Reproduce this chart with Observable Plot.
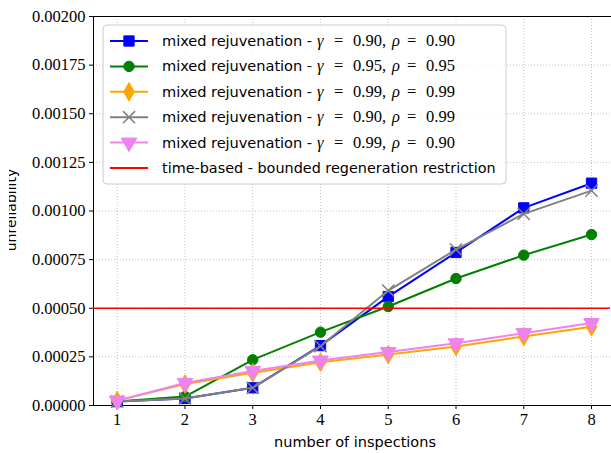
<!DOCTYPE html>
<html><head><meta charset="utf-8">
<script src="https://cdn.jsdelivr.net/npm/d3@7"></script>
<script src="https://cdn.jsdelivr.net/npm/@observablehq/plot@0.6"></script>
<style>
html,body{margin:0;padding:0;background:#fff;overflow:hidden}
#chart{position:relative;width:611px;height:453px}
</style></head>
<body><div id="chart"></div>
<script>
const inspections = [1,2,3,4,5,6,7,8];
const blue   = [0.000020,0.000036,0.000091,0.000308,0.000560,0.000787,0.001016,0.001143];
const green  = [0.000020,0.000046,0.000235,0.000377,0.000509,0.000653,0.000773,0.000879];
const orange = [0.000025,0.000110,0.000168,0.000222,0.000262,0.000303,0.000355,0.000405];
const gray   = [0.000020,0.000036,0.000091,0.000305,0.000591,0.000802,0.000985,0.001105];
const pink   = [0.000025,0.000116,0.000178,0.000231,0.000275,0.000320,0.000372,0.000424];
const threshold = 0.0005;
const yTicks = [0,0.00025,0.0005,0.00075,0.001,0.00125,0.0015,0.00175,0.002];
const names = [
  ["0.90","0.90"],["0.95","0.95"],["0.99","0.99"],["0.90","0.99"],["0.99","0.90"]
];
const thresholdName = "time-based - bounded regeneration restriction";
const seriesDefs = [
  {vals: blue,   color:"#0000ff", symbol:"square",  r:5.8, rotate:0},
  {vals: green,  color:"#008000", symbol:"circle",  r:5.2, rotate:0},
  {vals: orange, color:"#ffa500", symbol:"diamond", r:5.6, rotate:0},
  {vals: gray,   color:"#808080", symbol:"times",   r:5.6, rotate:0},
  {vals: pink,   color:"#ee82ee", symbol:"triangle",r:5.8, rotate:180}
];

const serif = "'Liberation Serif', serif";
const sans = "'DejaVu Sans', sans-serif";

const marks = [
  Plot.gridX(inspections, {stroke:"#b0b0b0", strokeOpacity:1, strokeDasharray:"1,2", strokeWidth:0.8}),
  Plot.gridY(yTicks, {stroke:"#b0b0b0", strokeOpacity:1, strokeDasharray:"1,2", strokeWidth:0.8}),
  Plot.frame({anchor:"left", stroke:"#000"}),
  Plot.frame({anchor:"top", stroke:"#000"}),
  Plot.frame({anchor:"bottom", stroke:"#000"})
];
seriesDefs.forEach(s => {
  const data = inspections.map((x,i)=>({x, y:s.vals[i]}));
  marks.push(Plot.line(data, {x:"x", y:"y", stroke:s.color, strokeWidth:2}));
  if (s.symbol === "times") {
    marks.push(Plot.dot(data, {x:"x", y:"y", symbol:"times", r:s.r, stroke:s.color, strokeWidth:1.5}));
  } else {
    marks.push(Plot.dot(data, {x:"x", y:"y", symbol:s.symbol, r:s.r, fill:s.color, stroke:s.color, strokeWidth:1, rotate:s.rotate}));
  }
});
marks.push(Plot.ruleY([threshold], {stroke:"#ff0000", strokeWidth:1.5}));

const chart = Plot.plot({
  width:611, height:453,
  marginLeft:93, marginRight:1, marginTop:16, marginBottom:48,
  style:{fontFamily:serif, fontSize:"16.5px", color:"#000", background:"#fff"},
  x:{domain:[0.65,8.28], ticks:inspections, tickSize:4, tickPadding:4, label:null, tickFormat:d3.format("d")},
  y:{domain:[0,0.002], ticks:yTicks, tickSize:4, tickPadding:4, label:null, tickFormat:d3.format(".5f")},
  marks
});
document.getElementById("chart").appendChild(chart);

const svg = d3.select(chart);
// axis labels
svg.append("text").attr("x", 355).attr("y", 447).attr("text-anchor","middle")
  .style("font-family", sans).style("font-size","14.5px").text("number of inspections");
svg.append("clipPath").attr("id","ylc").append("rect").attr("x",9).attr("y",0).attr("width",100).attr("height",453);
svg.append("g").attr("clip-path","url(#ylc)").append("text")
  .attr("transform","translate(16,210) rotate(-90)").attr("text-anchor","middle")
  .style("font-family", sans).style("font-size","14px").text("unreliability");

// legend
const lg = svg.append("g").attr("text-anchor","start");
lg.append("rect").attr("x",103).attr("y",25).attr("width",403).attr("height",159).attr("rx",4)
  .attr("fill","#fff").attr("fill-opacity",0.8).attr("stroke","#cccccc").attr("stroke-width",1);
const rowY = i => 41 + i*25.4;
seriesDefs.forEach((s,i) => {
  const y = rowY(i);
  lg.append("line").attr("x1",110).attr("x2",148).attr("y1",y).attr("y2",y).attr("stroke",s.color).attr("stroke-width",2);
  const sym = {square:d3.symbolSquare, circle:d3.symbolCircle, diamond:d3.symbolDiamond, times:d3.symbolTimes, triangle:d3.symbolTriangle}[s.symbol];
  const p = lg.append("path").attr("d", d3.symbol(sym, Math.PI*s.r*s.r)())
    .attr("transform",`translate(129,${y}) rotate(${s.rotate})`);
  if (s.symbol==="times") p.attr("fill","none").attr("stroke",s.color).attr("stroke-width",1.5);
  else p.attr("fill",s.color).attr("stroke",s.color);
  const t = lg.append("text").attr("y",y+5).attr("text-anchor","start").style("font-size","16.5px");
  t.append("tspan").attr("x",162).style("font-family",sans).style("font-size","14.6px").attr("textLength",150).text("mixed rejuvenation -");
  t.append("tspan").attr("x",317).style("font-family",serif).style("font-style","italic").text("γ");
  t.append("tspan").attr("x",334).style("font-family",serif).text("=");
  t.append("tspan").attr("x",353).style("font-family",serif).text(names[i][0]+",");
  t.append("tspan").attr("x",392).style("font-family",serif).style("font-style","italic").text("ρ");
  t.append("tspan").attr("x",407).style("font-family",serif).text("=");
  t.append("tspan").attr("x",426).style("font-family",serif).text(names[i][1]);
});
{
  const y = rowY(5);
  lg.append("line").attr("x1",110).attr("x2",148).attr("y1",y).attr("y2",y).attr("stroke","#ff0000").attr("stroke-width",2);
  lg.append("text").attr("x",162).attr("y",y+5).attr("text-anchor","start").style("font-family",sans).style("font-size","14.4px").text(thresholdName);
}
</script></body></html>
